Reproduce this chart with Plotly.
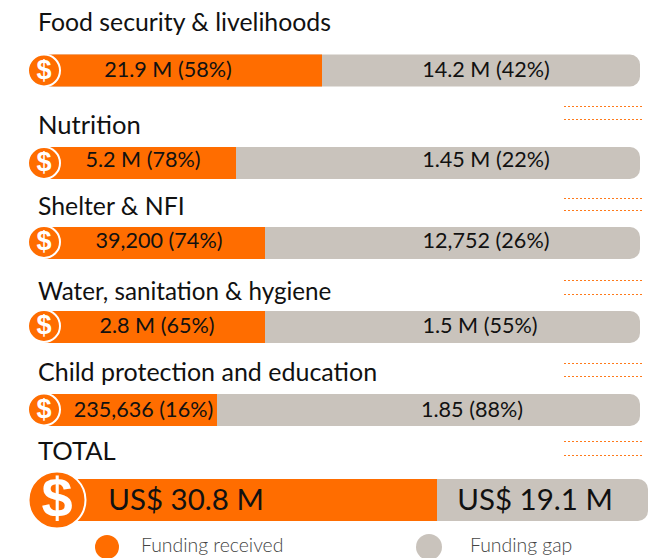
import plotly.graph_objects as go

FONT = "Lato"
categories = ["Food security & livelihoods", "Nutrition", "Shelter & NFI",
              "Water, sanitation & hygiene", "Child protection and education", "TOTAL"]
funded_labels = ["21.9 M (58%)", "5.2 M (78%)", "39,200 (74%)", "2.8 M (65%)", "235,636 (16%)", "US$ 30.8 M"]
gap_labels = ["14.2 M (42%)", "1.45 M (22%)", "12,752 (26%)", "1.5 M (55%)", "1.85 (88%)", "US$ 19.1 M"]
# Bar lengths as drawn in the picture, in axis units
funded_drawn = [278, 192, 221, 221, 173, 380]
gap_drawn = [318, 404, 375, 375, 423, 211]

# Layout constants
bar_start = [44, 44, 44, 44, 44, 57]
row_y = [70.5, 163, 243, 327, 410, 500]
row_h = [32, 32, 32, 32, 32, 42]
text_y = [71.5, 162, 243, 328, 412, 503]
title_y = [25, 128, 209, 294, 375, 454]
title_sizes = [24.8, 25.6, 24.8, 24.2, 25, 25.6]
title_x = 38
funded_text_x = [168, 143, 159, 157, 143.5, 186]
gap_text_x = [486, 486, 486, 480, 472, 535]
text_sizes = [21.6] * 5 + [29.5]
circle_x = [44, 44, 44, 44, 44, 57]
circle_y = [70.5, 163, 242, 326, 409.5, 500]
circle_size = [32, 32, 32, 32, 32, 57]
dollar_y = [72, 164.5, 243.5, 327.5, 411, 503]
dollar_sizes = [27, 27, 27, 27, 27, 56]
dot_rows = [(106.5, 119.5), (198.5, 210.5), (280.5, 294.5), (363.5, 376.5), (441.5, 455.5)]
ORANGE = "#FF6D00"
GREY = "#C9C3BC"

fig = go.Figure()
fig.add_bar(y=row_y, x=[f + g for f, g in zip(funded_drawn, gap_drawn)], base=bar_start, width=row_h,
            orientation="h", marker=dict(color=GREY, line_width=0, cornerradius=10),
            showlegend=False, hoverinfo="skip")
fig.add_bar(y=row_y, x=funded_drawn, base=bar_start, width=row_h, orientation="h",
            marker=dict(color=ORANGE, line_width=0), showlegend=False, hoverinfo="skip")

# dollar badges
fig.add_scatter(x=circle_x, y=circle_y, mode="markers",
                marker=dict(color=ORANGE, opacity=1, size=circle_size, line=dict(color="white", width=2)),
                showlegend=False, hoverinfo="skip", cliponaxis=False)
fig.add_scatter(x=circle_x, y=dollar_y, mode="text", text=["$"] * 6, textposition="middle center",
                textfont=dict(family="Liberation Sans", size=dollar_sizes, color="white", weight="bold"),
                showlegend=False, hoverinfo="skip", cliponaxis=False)

# bar labels
fig.add_scatter(x=funded_text_x, y=text_y, mode="text", text=funded_labels, textposition="middle center",
                textfont=dict(family=FONT, size=text_sizes, color="#111111"), showlegend=False, hoverinfo="skip")
fig.add_scatter(x=gap_text_x, y=text_y, mode="text", text=gap_labels, textposition="middle center",
                textfont=dict(family=FONT, size=text_sizes, color="#111111"), showlegend=False, hoverinfo="skip")

# titles
fig.add_scatter(x=[title_x] * 6, y=title_y, mode="text", text=categories, textposition="middle right",
                textfont=dict(family=FONT, size=title_sizes, color="#111111"), showlegend=False, hoverinfo="skip")

# dotted leader rules
for a, b in dot_rows:
    for yy in (a, b):
        fig.add_scatter(x=[564, 642], y=[yy, yy], mode="lines",
                        line=dict(color="#FF7A1A", width=1, dash="2px,2px"),
                        showlegend=False, hoverinfo="skip")

# legend
fig.add_scatter(x=[107, 429], y=[547, 547], mode="markers",
                marker=dict(color=[ORANGE, GREY], opacity=1, size=[24, 26], line_width=0),
                showlegend=False, hoverinfo="skip", cliponaxis=False)
fig.add_scatter(x=[141, 470], y=[547, 547], mode="text", text=["Funding received", "Funding gap"],
                textposition="middle right",
                textfont=dict(family=FONT, size=19.4, color="#444444", weight=300),
                showlegend=False, hoverinfo="skip")

fig.update_layout(width=650, height=558, margin=dict(l=0, r=0, t=0, b=0),
                  barmode="overlay", plot_bgcolor="white", paper_bgcolor="white",
                  xaxis=dict(range=[0, 650], visible=False, fixedrange=True),
                  yaxis=dict(range=[558, 0], visible=False, fixedrange=True))
fig.write_html("out.html", config=dict(displayModeBar=False),
               post_script="document.body.style.margin='0';document.documentElement.style.overflow='hidden';")
